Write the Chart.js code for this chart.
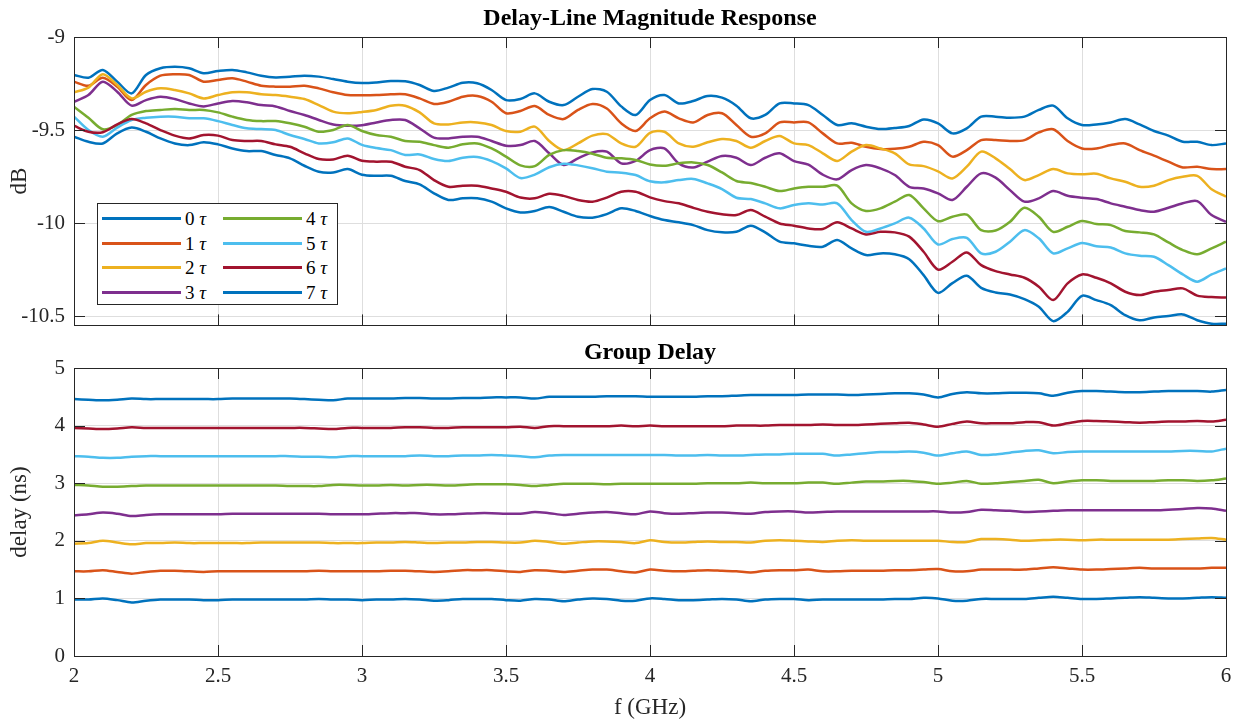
<!DOCTYPE html>
<html lang="en">
<head>
<meta charset="UTF-8">
<title>Delay-Line Magnitude Response / Group Delay</title>
<script src="https://cdn.jsdelivr.net/npm/chart.js"></script>
<style>
  body { margin: 0; background: #fff; font-family: 'Liberation Serif', 'Times New Roman', serif; }
  #page { position: relative; width: 1239px; height: 723px; overflow: hidden; }
  canvas { position: absolute; left: 0; }
  #magChart { top: 0; }
  #delayChart { top: 330px; }
  #legend {
    position: absolute; left: 97px; top: 203px; width: 241px; height: 102px;
    box-sizing: border-box; border: 1px solid #262626; background: #fff;
  }
  .entry { position: absolute; height: 21px; display: flex; align-items: center; font-size: 19px; color: #000; white-space: nowrap; }
  .swatch { display: inline-block; width: 79px; height: 3px; margin-right: 4px; }
</style>
</head>
<body>
<div id="page">
  <canvas id="magChart" width="1239" height="347"></canvas>
  <canvas id="delayChart" width="1239" height="393"></canvas>
  <div id="legend"></div>
</div>

<script>
// frequency grid (GHz)
const freqGHz = [
  2.00, 2.05, 2.10, 2.15, 2.20, 2.25, 2.30, 2.35, 2.40, 2.45,
  2.50, 2.55, 2.60, 2.65, 2.70, 2.75, 2.80, 2.85, 2.90, 2.95,
  3.00, 3.05, 3.10, 3.15, 3.20, 3.25, 3.30, 3.35, 3.40, 3.45,
  3.50, 3.55, 3.60, 3.65, 3.70, 3.75, 3.80, 3.85, 3.90, 3.95,
  4.00, 4.05, 4.10, 4.15, 4.20, 4.25, 4.30, 4.35, 4.40, 4.45,
  4.50, 4.55, 4.60, 4.65, 4.70, 4.75, 4.80, 4.85, 4.90, 4.95,
  5.00, 5.05, 5.10, 5.15, 5.20, 5.25, 5.30, 5.35, 5.40, 5.45,
  5.50, 5.55, 5.60, 5.65, 5.70, 5.75, 5.80, 5.85, 5.90, 5.95,
  6.00
];

// magnitude (dB) per delay tap
const magTau0 = [
  -9.204, -9.219, -9.177, -9.240, -9.303, -9.204, -9.168, -9.160, -9.168, -9.195,
  -9.183, -9.177, -9.190, -9.208, -9.217, -9.213, -9.208, -9.213, -9.226, -9.240,
  -9.247, -9.244, -9.237, -9.238, -9.258, -9.290, -9.272, -9.246, -9.249, -9.285,
  -9.339, -9.333, -9.303, -9.348, -9.366, -9.321, -9.280, -9.294, -9.373, -9.419,
  -9.339, -9.312, -9.357, -9.344, -9.317, -9.326, -9.369, -9.437, -9.419, -9.357,
  -9.357, -9.366, -9.419, -9.473, -9.464, -9.482, -9.495, -9.489, -9.478, -9.443,
  -9.464, -9.518, -9.491, -9.428, -9.428, -9.434, -9.428, -9.392, -9.369, -9.437,
  -9.473, -9.470, -9.459, -9.441, -9.470, -9.505, -9.530, -9.563, -9.563, -9.581,
  -9.572
];
const magTau1 = [
  -9.240, -9.262, -9.219, -9.267, -9.339, -9.258, -9.208, -9.200, -9.204, -9.240,
  -9.231, -9.222, -9.240, -9.262, -9.267, -9.267, -9.262, -9.276, -9.297, -9.312,
  -9.313, -9.312, -9.308, -9.308, -9.330, -9.360, -9.348, -9.321, -9.317, -9.348,
  -9.410, -9.398, -9.371, -9.419, -9.441, -9.392, -9.360, -9.384, -9.464, -9.505,
  -9.437, -9.401, -9.437, -9.459, -9.419, -9.410, -9.473, -9.536, -9.518, -9.459,
  -9.459, -9.459, -9.518, -9.572, -9.568, -9.590, -9.602, -9.601, -9.590, -9.563,
  -9.581, -9.643, -9.608, -9.554, -9.554, -9.559, -9.554, -9.513, -9.496, -9.559,
  -9.599, -9.599, -9.581, -9.572, -9.608, -9.638, -9.670, -9.701, -9.697, -9.710,
  -9.710
];
const magTau2 = [
  -9.297, -9.272, -9.200, -9.258, -9.330, -9.294, -9.276, -9.285, -9.303, -9.330,
  -9.312, -9.297, -9.297, -9.308, -9.312, -9.321, -9.333, -9.366, -9.401, -9.410,
  -9.403, -9.392, -9.369, -9.369, -9.405, -9.464, -9.470, -9.459, -9.459, -9.473,
  -9.505, -9.509, -9.482, -9.559, -9.608, -9.572, -9.530, -9.522, -9.572, -9.590,
  -9.515, -9.509, -9.572, -9.590, -9.566, -9.548, -9.559, -9.595, -9.559, -9.532,
  -9.572, -9.581, -9.625, -9.666, -9.616, -9.581, -9.599, -9.625, -9.685, -9.694,
  -9.722, -9.760, -9.697, -9.616, -9.652, -9.710, -9.769, -9.742, -9.710, -9.733,
  -9.738, -9.735, -9.760, -9.778, -9.805, -9.799, -9.769, -9.751, -9.746, -9.818,
  -9.858
];
const magTau3 = [
  -9.348, -9.312, -9.240, -9.294, -9.369, -9.339, -9.321, -9.333, -9.357, -9.373,
  -9.357, -9.344, -9.351, -9.366, -9.373, -9.398, -9.419, -9.446, -9.470, -9.477,
  -9.474, -9.459, -9.446, -9.446, -9.491, -9.541, -9.545, -9.536, -9.536, -9.559,
  -9.584, -9.581, -9.559, -9.625, -9.688, -9.652, -9.620, -9.616, -9.679, -9.666,
  -9.608, -9.599, -9.679, -9.701, -9.670, -9.640, -9.649, -9.688, -9.649, -9.625,
  -9.667, -9.686, -9.740, -9.765, -9.715, -9.688, -9.706, -9.742, -9.805, -9.814,
  -9.840, -9.876, -9.805, -9.733, -9.756, -9.823, -9.885, -9.867, -9.828, -9.853,
  -9.864, -9.871, -9.894, -9.912, -9.930, -9.939, -9.918, -9.894, -9.882, -9.957,
  -9.993
];
const magTau4 = [
  -9.375, -9.434, -9.496, -9.473, -9.419, -9.398, -9.392, -9.387, -9.392, -9.392,
  -9.405, -9.428, -9.446, -9.452, -9.452, -9.464, -9.482, -9.509, -9.500, -9.473,
  -9.505, -9.527, -9.536, -9.559, -9.563, -9.581, -9.595, -9.577, -9.572, -9.599,
  -9.643, -9.690, -9.694, -9.634, -9.608, -9.613, -9.627, -9.649, -9.652, -9.661,
  -9.685, -9.692, -9.679, -9.674, -9.688, -9.728, -9.774, -9.785, -9.805, -9.828,
  -9.814, -9.805, -9.805, -9.799, -9.894, -9.935, -9.921, -9.885, -9.849, -9.921,
  -9.990, -9.966, -9.955, -10.038, -10.040, -9.993, -9.918, -9.966, -10.047, -10.020,
  -9.989, -10.005, -10.011, -10.043, -10.050, -10.061, -10.104, -10.145, -10.168, -10.136,
  -10.100
];
const magTau5 = [
  -9.428, -9.500, -9.536, -9.487, -9.446, -9.434, -9.428, -9.428, -9.437, -9.437,
  -9.452, -9.473, -9.491, -9.495, -9.500, -9.527, -9.548, -9.572, -9.566, -9.545,
  -9.580, -9.597, -9.608, -9.634, -9.631, -9.656, -9.667, -9.649, -9.645, -9.667,
  -9.706, -9.758, -9.740, -9.700, -9.681, -9.690, -9.705, -9.724, -9.729, -9.742,
  -9.775, -9.781, -9.769, -9.763, -9.787, -9.817, -9.864, -9.871, -9.894, -9.921,
  -9.903, -9.894, -9.900, -9.894, -9.984, -10.047, -10.029, -10.002, -9.971, -10.029,
  -10.115, -10.086, -10.079, -10.163, -10.154, -10.100, -10.038, -10.082, -10.163, -10.136,
  -10.107, -10.125, -10.131, -10.163, -10.176, -10.181, -10.226, -10.276, -10.315, -10.276,
  -10.244
];
const magTau6 = [
  -9.477, -9.509, -9.512, -9.470, -9.441, -9.464, -9.500, -9.530, -9.545, -9.527,
  -9.530, -9.554, -9.559, -9.559, -9.577, -9.590, -9.625, -9.656, -9.658, -9.638,
  -9.665, -9.670, -9.670, -9.697, -9.715, -9.769, -9.805, -9.799, -9.799, -9.814,
  -9.832, -9.863, -9.867, -9.843, -9.854, -9.876, -9.885, -9.863, -9.832, -9.832,
  -9.862, -9.882, -9.894, -9.918, -9.939, -9.953, -9.957, -9.930, -9.966, -10.002,
  -10.014, -10.029, -10.032, -9.996, -10.029, -10.061, -10.047, -10.050, -10.073, -10.154,
  -10.250, -10.208, -10.158, -10.226, -10.258, -10.276, -10.294, -10.342, -10.414, -10.324,
  -10.276, -10.294, -10.324, -10.369, -10.387, -10.369, -10.360, -10.351, -10.390, -10.398,
  -10.400
];
const magTau7 = [
  -9.536, -9.563, -9.572, -9.518, -9.487, -9.509, -9.545, -9.572, -9.581, -9.566,
  -9.577, -9.599, -9.613, -9.613, -9.634, -9.652, -9.692, -9.724, -9.728, -9.710,
  -9.740, -9.746, -9.746, -9.774, -9.792, -9.840, -9.876, -9.867, -9.867, -9.885,
  -9.921, -9.943, -9.935, -9.914, -9.939, -9.966, -9.971, -9.952, -9.921, -9.935,
  -9.962, -9.984, -9.996, -10.011, -10.038, -10.050, -10.047, -10.014, -10.050, -10.100,
  -10.109, -10.122, -10.127, -10.091, -10.136, -10.172, -10.163, -10.168, -10.194, -10.280,
  -10.375, -10.323, -10.283, -10.348, -10.373, -10.384, -10.409, -10.450, -10.527, -10.477,
  -10.391, -10.414, -10.441, -10.495, -10.522, -10.507, -10.500, -10.491, -10.522, -10.541,
  -10.541
];

// group delay (ns) per delay tap
const delayTau0 = [
  0.98, 0.98, 1.00, 0.97, 0.93, 0.96, 0.98, 0.98, 0.98, 0.97,
  0.97, 0.98, 0.98, 0.98, 0.98, 0.98, 0.98, 0.99, 0.98, 0.98,
  0.97, 0.98, 0.98, 0.99, 0.98, 0.96, 0.97, 0.99, 0.99, 0.99,
  0.97, 0.96, 0.99, 0.98, 0.95, 0.98, 1.00, 0.99, 0.96, 0.96,
  1.00, 0.99, 0.97, 0.97, 0.98, 0.99, 0.98, 0.95, 0.98, 0.99,
  0.99, 0.97, 0.98, 0.98, 0.98, 0.98, 0.98, 0.99, 0.99, 1.01,
  1.00, 0.96, 0.96, 0.99, 0.99, 0.99, 0.99, 1.01, 1.03, 1.01,
  0.99, 0.99, 1.00, 1.01, 1.02, 1.01, 1.00, 1.00, 1.01, 1.02,
  1.01
];
const delayTau1 = [
  1.47, 1.47, 1.49, 1.46, 1.43, 1.46, 1.48, 1.48, 1.47, 1.46,
  1.47, 1.47, 1.47, 1.47, 1.47, 1.47, 1.47, 1.48, 1.47, 1.47,
  1.47, 1.47, 1.48, 1.48, 1.47, 1.46, 1.47, 1.49, 1.49, 1.49,
  1.47, 1.46, 1.49, 1.48, 1.46, 1.48, 1.50, 1.50, 1.47, 1.45,
  1.50, 1.48, 1.47, 1.48, 1.49, 1.48, 1.47, 1.45, 1.48, 1.49,
  1.49, 1.50, 1.47, 1.47, 1.48, 1.48, 1.48, 1.49, 1.49, 1.50,
  1.51, 1.47, 1.47, 1.50, 1.50, 1.50, 1.50, 1.52, 1.54, 1.52,
  1.50, 1.50, 1.51, 1.52, 1.53, 1.52, 1.52, 1.52, 1.52, 1.53,
  1.53
];
const delayTau2 = [
  1.95, 1.96, 2.00, 1.97, 1.94, 1.96, 1.96, 1.97, 1.96, 1.96,
  1.96, 1.96, 1.96, 1.97, 1.97, 1.97, 1.97, 1.97, 1.96, 1.96,
  1.96, 1.97, 1.97, 1.98, 1.97, 1.96, 1.97, 1.97, 1.98, 1.98,
  1.97, 1.97, 2.00, 1.98, 1.95, 1.97, 1.99, 1.99, 1.98, 1.96,
  2.01, 1.98, 1.97, 1.98, 1.99, 1.98, 1.98, 1.97, 2.00, 2.01,
  2.00, 1.99, 1.98, 2.00, 2.01, 2.00, 2.00, 2.00, 2.00, 2.00,
  2.00, 1.98, 1.98, 2.03, 2.03, 2.02, 2.00, 2.01, 2.02, 2.02,
  2.01, 2.02, 2.02, 2.02, 2.02, 2.02, 2.02, 2.03, 2.04, 2.05,
  2.02
];
const delayTau3 = [
  2.44, 2.46, 2.49, 2.47, 2.43, 2.45, 2.46, 2.46, 2.46, 2.46,
  2.46, 2.47, 2.47, 2.47, 2.47, 2.47, 2.47, 2.47, 2.46, 2.46,
  2.46, 2.47, 2.48, 2.48, 2.48, 2.46, 2.46, 2.47, 2.48, 2.48,
  2.47, 2.47, 2.50, 2.48, 2.45, 2.47, 2.49, 2.50, 2.48, 2.46,
  2.51, 2.48, 2.47, 2.48, 2.49, 2.49, 2.48, 2.47, 2.50, 2.51,
  2.51, 2.49, 2.50, 2.51, 2.51, 2.51, 2.51, 2.51, 2.51, 2.51,
  2.51, 2.49, 2.50, 2.54, 2.53, 2.52, 2.50, 2.51, 2.52, 2.53,
  2.53, 2.53, 2.53, 2.53, 2.53, 2.53, 2.54, 2.55, 2.57, 2.56,
  2.52
];
const delayTau4 = [
  2.97, 2.96, 2.94, 2.94, 2.95, 2.96, 2.96, 2.96, 2.96, 2.96,
  2.96, 2.96, 2.96, 2.96, 2.96, 2.95, 2.95, 2.95, 2.97, 2.97,
  2.96, 2.96, 2.97, 2.96, 2.97, 2.97, 2.96, 2.97, 2.98, 2.98,
  2.98, 2.97, 2.95, 2.97, 2.99, 2.99, 2.99, 2.98, 2.99, 2.99,
  2.99, 2.99, 2.99, 2.99, 3.00, 3.00, 3.00, 3.01, 3.00, 3.00,
  3.00, 3.01, 3.01, 2.99, 3.01, 3.03, 3.03, 3.04, 3.04, 3.02,
  2.99, 3.01, 3.04, 2.99, 3.00, 3.02, 3.04, 3.06, 3.00, 3.03,
  3.05, 3.05, 3.04, 3.04, 3.04, 3.04, 3.05, 3.05, 3.04, 3.05,
  3.08
];
const delayTau5 = [
  3.47, 3.46, 3.44, 3.44, 3.46, 3.47, 3.47, 3.47, 3.47, 3.47,
  3.47, 3.47, 3.47, 3.47, 3.47, 3.47, 3.46, 3.46, 3.45, 3.47,
  3.47, 3.47, 3.47, 3.47, 3.48, 3.47, 3.47, 3.48, 3.48, 3.49,
  3.48, 3.47, 3.45, 3.48, 3.49, 3.49, 3.49, 3.49, 3.49, 3.49,
  3.49, 3.49, 3.48, 3.48, 3.49, 3.48, 3.48, 3.49, 3.50, 3.50,
  3.51, 3.51, 3.51, 3.48, 3.50, 3.52, 3.54, 3.54, 3.55, 3.53,
  3.48, 3.52, 3.55, 3.49, 3.50, 3.53, 3.56, 3.57, 3.52, 3.54,
  3.55, 3.55, 3.55, 3.55, 3.55, 3.55, 3.55, 3.56, 3.56, 3.55,
  3.60
];
const delayTau6 = [
  3.96, 3.95, 3.94, 3.95, 3.97, 3.96, 3.96, 3.96, 3.96, 3.96,
  3.96, 3.96, 3.96, 3.96, 3.96, 3.96, 3.96, 3.95, 3.94, 3.96,
  3.96, 3.96, 3.96, 3.97, 3.97, 3.96, 3.96, 3.97, 3.97, 3.97,
  3.97, 3.98, 3.96, 3.99, 3.99, 3.99, 3.99, 3.99, 4.00, 3.99,
  4.00, 3.99, 3.99, 3.99, 3.99, 3.99, 4.00, 4.00, 4.00, 4.01,
  4.01, 4.01, 4.02, 4.01, 4.01, 4.02, 4.03, 4.04, 4.05, 4.02,
  3.98, 4.03, 4.07, 4.04, 4.04, 4.04, 4.06, 4.06, 4.00, 4.04,
  4.08, 4.08, 4.07, 4.06, 4.05, 4.06, 4.07, 4.07, 4.08, 4.07,
  4.10
];
const delayTau7 = [
  4.46, 4.45, 4.44, 4.45, 4.47, 4.46, 4.46, 4.46, 4.46, 4.46,
  4.46, 4.47, 4.47, 4.47, 4.47, 4.47, 4.46, 4.45, 4.44, 4.47,
  4.47, 4.47, 4.47, 4.48, 4.48, 4.47, 4.47, 4.48, 4.48, 4.49,
  4.49, 4.49, 4.47, 4.50, 4.50, 4.50, 4.50, 4.51, 4.51, 4.51,
  4.50, 4.50, 4.50, 4.50, 4.51, 4.51, 4.52, 4.53, 4.53, 4.53,
  4.53, 4.54, 4.54, 4.54, 4.53, 4.54, 4.55, 4.56, 4.56, 4.54,
  4.49, 4.55, 4.58, 4.56, 4.56, 4.57, 4.57, 4.56, 4.52, 4.57,
  4.60, 4.60, 4.59, 4.58, 4.58, 4.59, 4.60, 4.60, 4.60, 4.59,
  4.62
];

const tauLabels = ['0', '1', '2', '3', '4', '5', '6', '7'];
const lineColors = ['#0072BD', '#D95319', '#EDB120', '#7E2F8E', '#77AC30', '#4DBEEE', '#A2142F', '#0072BD'];
const freqTicks = [2, 2.5, 3, 3.5, 4, 4.5, 5, 5.5, 6];
const magTicks = [-10.5, -10, -9.5, -9];
const delayTicks = [0, 1, 2, 3, 4, 5];

const magSeries = [magTau0, magTau1, magTau2, magTau3, magTau4, magTau5, magTau6, magTau7];
const delaySeries = [delayTau0, delayTau1, delayTau2, delayTau3, delayTau4, delayTau5, delayTau6, delayTau7];

const SERIF = "'Liberation Serif', 'Times New Roman', serif";
const AXIS = '#262626';
const GRID = '#dedede';
const TICK_LEN = 11;

function makeDatasets(series) {
  return series.map((vals, i) => ({
    label: tauLabels[i] + ' τ',
    data: vals.map((v, k) => ({ x: freqGHz[k], y: v })),
    borderColor: lineColors[i],
    borderWidth: 2.5,
    pointRadius: 0,
    tension: 0.3,
    fill: false,
    clip: 0,
    order: series.length - 1 - i   // later taps drawn on top
  }));
}

function fixedTicks(values) {
  return scale => { scale.ticks = values.map(v => ({ value: v })); };
}

// axes box with inward ticks on all four sides
const boxAndTicks = {
  id: 'boxAndTicks',
  afterDatasetsDraw(chart) {
    const { ctx, chartArea: { left, right, top, bottom }, scales: { x, y } } = chart;
    ctx.save();
    ctx.strokeStyle = AXIS;
    ctx.lineWidth = 1;
    ctx.beginPath();
    for (const t of x.ticks) {
      const px = Math.round(x.getPixelForValue(t.value)) + 0.5;
      ctx.moveTo(px, bottom); ctx.lineTo(px, bottom - TICK_LEN);
      ctx.moveTo(px, top); ctx.lineTo(px, top + TICK_LEN);
    }
    for (const t of y.ticks) {
      const py = Math.round(y.getPixelForValue(t.value)) + 0.5;
      ctx.moveTo(left, py); ctx.lineTo(left + TICK_LEN, py);
      ctx.moveTo(right, py); ctx.lineTo(right - TICK_LEN, py);
    }
    ctx.stroke();
    ctx.strokeRect(Math.round(left) + 0.5, Math.round(top) + 0.5,
                   Math.round(right - left), Math.round(bottom - top));
    ctx.restore();
  }
};

const baseOptions = {
  responsive: false,
  animation: false,
  devicePixelRatio: 1,
  layout: { padding: { left: 0, right: 13, top: 0, bottom: 0 } }
};

// top: magnitude response
new Chart(document.getElementById('magChart'), {
  type: 'line',
  data: { datasets: makeDatasets(magSeries) },
  options: {
    ...baseOptions,
    plugins: {
      legend: { display: false },
      tooltip: { enabled: false },
      title: {
        display: true, text: 'Delay-Line Magnitude Response', fullSize: false, color: '#000',
        font: { family: SERIF, size: 24, weight: 'bold' },
        padding: { top: 4.6, bottom: 3.6 }
      }
    },
    scales: {
      x: {
        type: 'linear', min: 2, max: 6,
        afterBuildTicks: fixedTicks(freqTicks),
        ticks: { display: false },
        grid: { color: GRID, drawTicks: false },
        border: { display: false },
        afterFit: s => { s.height = 5; }
      },
      y: {
        type: 'linear', min: -10.55, max: -9,
        afterBuildTicks: fixedTicks(magTicks),
        ticks: { padding: 9, color: AXIS, font: { family: SERIF, size: 21 }, callback: v => String(v) },
        grid: { color: GRID, drawTicks: false },
        border: { display: false },
        title: { display: true, text: 'dB', color: AXIS, font: { family: SERIF, size: 23 }, padding: { top: 6, bottom: 0 } },
        afterFit: s => { s.width = 74; }
      }
    }
  },
  plugins: [boxAndTicks]
});

// bottom: group delay
new Chart(document.getElementById('delayChart'), {
  type: 'line',
  data: { datasets: makeDatasets(delaySeries) },
  options: {
    ...baseOptions,
    plugins: {
      legend: { display: false },
      tooltip: { enabled: false },
      title: {
        display: true, text: 'Group Delay', fullSize: false, color: '#000',
        font: { family: SERIF, size: 24, weight: 'bold' },
        padding: { top: 8.6, bottom: 0.6 }
      }
    },
    scales: {
      x: {
        type: 'linear', min: 2, max: 6,
        afterBuildTicks: fixedTicks(freqTicks),
        ticks: { padding: 7.4, color: AXIS, font: { family: SERIF, size: 21 }, maxRotation: 0, callback: v => String(v) },
        grid: { color: GRID, drawTicks: false },
        border: { display: false },
        title: { display: true, text: 'f (GHz)', color: AXIS, font: { family: SERIF, size: 23 }, padding: { top: 0, bottom: 1.2 } },
        afterFit: s => { s.height = 67; }
      },
      y: {
        type: 'linear', min: 0, max: 5,
        afterBuildTicks: fixedTicks(delayTicks),
        ticks: { padding: 9, color: AXIS, font: { family: SERIF, size: 21 }, callback: v => String(v) },
        grid: { color: GRID, drawTicks: false },
        border: { display: false },
        title: { display: true, text: 'delay (ns)', color: AXIS, font: { family: SERIF, size: 23 }, padding: { top: 6, bottom: 0 } },
        afterFit: s => { s.width = 74; }
      }
    }
  },
  plugins: [boxAndTicks]
});

// two-column legend inside the magnitude axes
const legendBox = document.getElementById('legend');
const legendRowTops = [4, 29, 53, 78];
tauLabels.forEach((label, i) => {
  const col = Math.floor(i / 4), row = i % 4;
  const entry = document.createElement('div');
  entry.className = 'entry';
  entry.style.left = (4 + col * 121) + 'px';
  entry.style.top = legendRowTops[row] + 'px';
  entry.innerHTML = '<span class="swatch" style="background:' + lineColors[i] + '"></span>' + label + '&nbsp;<i>τ</i>';
  legendBox.appendChild(entry);
});
</script>
</body>
</html>
